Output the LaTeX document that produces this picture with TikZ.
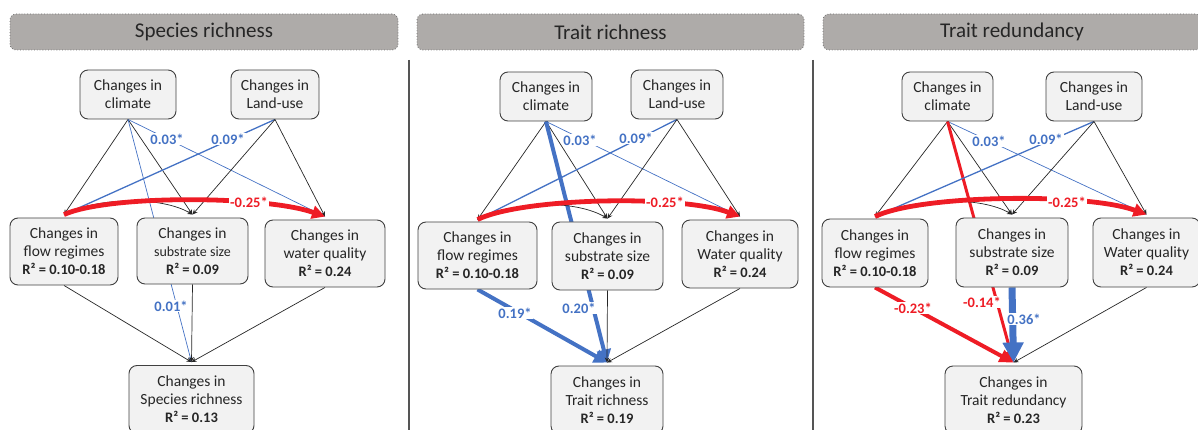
\documentclass[tikz,border=0pt]{standalone}
\usepackage{fontspec}
\setmainfont{Carlito}
\usetikzlibrary{arrows.meta}
\definecolor{boxfill}{HTML}{F2F2F2}
\definecolor{boxdraw}{HTML}{404040}
\definecolor{hdrfill}{HTML}{AEABA9}
\definecolor{hdrdraw}{HTML}{6E6E6E}
\definecolor{pblue}{HTML}{4472C4}
\definecolor{pred}{HTML}{EE1C25}
\definecolor{txt}{HTML}{262626}
\definecolor{divider}{HTML}{555555}
\pgfdeclarelayer{background}
\pgfsetlayers{background,main}
\begin{document}
\begin{tikzpicture}[x=1pt,y=-1pt,
  box/.style={draw=boxdraw, line width=0.9pt, fill=boxfill, rounded corners=8pt,
    align=center, inner sep=0pt, text=txt, font=\fontsize{15.5}{18}\selectfont},
  hdr/.style={draw=hdrdraw, dotted, line width=0.8pt, fill=hdrfill, rounded corners=6pt,
    minimum height=36pt, inner sep=0pt, text=txt, font=\fontsize{21}{24}\selectfont},
  blk/.style={draw=black!85, line width=0.7pt, -{Stealth[length=5pt,width=4.5pt]}},
  bthin/.style={draw=pblue, line width=0.7pt, -{Stealth[length=5pt,width=4pt]}},
  bmid/.style={draw=pblue, line width=1.3pt, -{Stealth[length=5pt,width=4pt]}},
  bthick/.style={draw=pblue, line width=4pt, -{Triangle[length=13pt,width=14pt]}},
  bheavy/.style={draw=pblue, line width=7pt, -{Triangle[length=20pt,width=20pt]}},
  rarc/.style={draw=pred, line width=4.8pt, -{Triangle[length=13pt,width=13pt]}},
  rmid/.style={draw=pred, line width=3pt, -{Triangle[length=12pt,width=11pt]}},
  rthick/.style={draw=pred, line width=4pt, -{Triangle[length=14pt,width=13pt]}},
  lbl/.style={fill=white, inner sep=1pt, font=\bfseries\fontsize{14.5}{16}\selectfont},
  lblue/.style={lbl, text=pblue},
  lred/.style={lbl, text=pred},
]
\useasboundingbox (0,0) rectangle (1198,430);
\newcommand{\rsqline}[1]{{\fontsize{14.5}{18}\selectfont\bfseries R² = #1}}

% headers and dividers
\node[hdr, minimum width=388pt] (h1) at (204,32) {Species richness};
\node[hdr, minimum width=387pt] (h2) at (610.5,32) {Trait richness};
\node[hdr, minimum width=378pt] (h3) at (1012,32) {Trait redundancy};
\coordinate (d1a) at (409,60); \coordinate (d1b) at (409,431);
\coordinate (d2a) at (813,60); \coordinate (d2b) at (813,431);
\draw[divider, line width=1.5pt] (d1a) -- (d1b);
\draw[divider, line width=1.5pt] (d2a) -- (d2b);

% ---------- Panel 1 ----------
\node[box, minimum width=96pt, minimum height=49pt] (c1) at (128,94.5) {Changes in\\climate};
\node[box, minimum width=88pt, minimum height=49pt] (l1) at (275,94.5) {Changes in\\Land-use};
\node[box, minimum width=108pt, minimum height=67pt] (f1) at (64,251.5) {Changes in\\flow regimes\\\rsqline{0.10-0.18}};
\node[box, minimum width=111pt, minimum height=66pt] (s1) at (192.5,251) {Changes in\\{\fontsize{14}{18}\selectfont substrate size}\\\rsqline{0.09}};
\node[box, minimum width=120pt, minimum height=67pt] (w1) at (325,253.5) {Changes in\\water quality\\\rsqline{0.24}};
\node[box, minimum width=125pt, minimum height=68pt] (o1) at (191.5,399.5) {Changes in\\Species richness\\\rsqline{0.13}};

% ---------- Panel 2 ----------
\node[box, minimum width=92pt, minimum height=49pt] (c2) at (546,96.5) {Changes in\\climate};
\node[box, minimum width=92pt, minimum height=49pt] (l2) at (677,94.5) {Changes in\\Land-use};
\node[box, minimum width=119pt, minimum height=67pt] (f2) at (477.5,255.5) {Changes in\\flow regimes\\\rsqline{0.10-0.18}};
\node[box, minimum width=111pt, minimum height=68pt] (s2) at (607.5,256) {Changes in\\substrate size\\\rsqline{0.09}};
\node[box, minimum width=116pt, minimum height=68pt] (w2) at (740,254) {Changes in\\Water quality\\\rsqline{0.24}};
\node[box, minimum width=112pt, minimum height=68pt] (o2) at (607,400) {Changes in\\Trait richness\\\rsqline{0.19}};

% ---------- Panel 3 ----------
\node[box, minimum width=91pt, minimum height=49pt] (c3) at (947.5,96.5) {Changes in\\climate};
\node[box, minimum width=96pt, minimum height=49pt] (l3) at (1094,96.5) {Changes in\\Land-use};
\node[box, minimum width=106pt, minimum height=68pt] (f3) at (875,253) {Changes in\\flow regimes\\\rsqline{0.10-0.18}};
\node[box, minimum width=112pt, minimum height=69pt] (s3) at (1012,252.5) {Changes in\\substrate size\\\rsqline{0.09}};
\node[box, minimum width=107pt, minimum height=69pt] (w3) at (1146.5,252.5) {Changes in\\Water quality\\\rsqline{0.24}};
\node[box, minimum width=137pt, minimum height=68pt] (o3) at (1013.5,400) {Changes in\\Trait redundancy\\\rsqline{0.23}};

\begin{pgfonlayer}{background}
% Panel 1
\draw[blk] (c1.south) -- ([yshift=3pt]f1.north);
\draw[blk] (c1.south) -- ([yshift=3pt]s1.north);
\draw[bthin] (c1.south) -- ([yshift=3pt]w1.north);
\draw[bthin] (c1.south) -- ([yshift=3pt]o1.north);
\draw[bmid] (l1.south) -- ([yshift=3pt]f1.north);
\draw[blk] (l1.south) -- ([yshift=3pt]s1.north);
\draw[blk] (l1.south) -- ([yshift=3pt]w1.north);
\draw[blk] ([yshift=3pt]f1.north) .. controls +(35,-18) and +(-30,-18) .. ([yshift=3pt]s1.north);
\draw[rarc] ([yshift=3pt]f1.north) .. controls +(45,-20) and +(-60,-21) .. ([yshift=3pt]w1.north);
\draw[blk] (f1.south) -- ([yshift=3pt]o1.north);
\draw[blk] (s1.south) -- ([yshift=3pt]o1.north);
\draw[blk] (w1.south) -- ([yshift=3pt]o1.north);
% Panel 2
\draw[blk] (c2.south) -- ([yshift=2pt]f2.north);
\draw[blk] (c2.south) -- ([yshift=3pt]s2.north);
\draw[bthin] (c2.south) -- ([yshift=3pt]w2.north);
\draw[bthick] (c2.south) -- ([yshift=3pt]o2.north);
\draw[bmid] (l2.south) -- ([yshift=2pt]f2.north);
\draw[blk] (l2.south) -- ([yshift=3pt]s2.north);
\draw[blk] (l2.south) -- ([yshift=3pt]w2.north);
\draw[blk] ([yshift=2pt]f2.north) .. controls +(40,-20) and +(-30,-18) .. ([yshift=3pt]s2.north);
\draw[rarc] ([yshift=2pt]f2.north) .. controls +(45,-22) and +(-60,-22) .. ([yshift=3pt]w2.north);
\draw[bthick] (f2.south) -- ([yshift=3pt]o2.north);
\draw[blk] (s2.south) -- ([yshift=3pt]o2.north);
\draw[blk] (w2.south) -- ([yshift=3pt]o2.north);
% Panel 3
\draw[blk] (c3.south) -- ([yshift=2pt]f3.north);
\draw[blk] (c3.south) -- ([yshift=3pt]s3.north);
\draw[bthin] (c3.south) -- ([yshift=3pt]w3.north);
\draw[rmid] (c3.south) -- ([yshift=3pt]o3.north);
\draw[bmid] (l3.south) -- ([yshift=2pt]f3.north);
\draw[blk] (l3.south) -- ([yshift=3pt]s3.north);
\draw[blk] (l3.south) -- ([yshift=3pt]w3.north);
\draw[blk] ([yshift=2pt]f3.north) .. controls +(40,-20) and +(-30,-18) .. ([yshift=3pt]s3.north);
\draw[rarc] ([yshift=2pt]f3.north) .. controls +(45,-22) and +(-60,-22) .. ([yshift=3pt]w3.north);
\draw[rthick] (f3.south) -- ([yshift=3pt]o3.north);
\draw[bheavy] (s3.south) -- ([yshift=3pt]o3.north);
\draw[blk] (w3.south) -- ([yshift=3pt]o3.north);
\end{pgfonlayer}

% labels
\node[lblue] (p1a) at (167,139) {0.03*};
\node[lblue] (p1b) at (228,139) {0.09*};
\node[lred]  (p1c) at (249,202) {-0.25*};
\node[lblue] (p1d) at (171,306) {0.01*};
\node[lblue] (p2a) at (580,140) {0.03*};
\node[lblue] (p2b) at (636,138) {0.09*};
\node[lred]  (p2c) at (665,202) {-0.25*};
\node[lblue] (p2d) at (515,313) {0.19*};
\node[lblue] (p2e) at (579,308) {0.20*};
\node[lblue] (p3a) at (989,141) {0.03*};
\node[lblue] (p3b) at (1046,139) {0.09*};
\node[lred]  (p3c) at (1067,202) {-0.25*};
\node[lred]  (p3d) at (913,308) {-0.23*};
\node[lred]  (p3e) at (982,302) {-0.14*};
\node[lblue] (p3f) at (1024,319) {0.36*};
\end{tikzpicture}
\end{document}
